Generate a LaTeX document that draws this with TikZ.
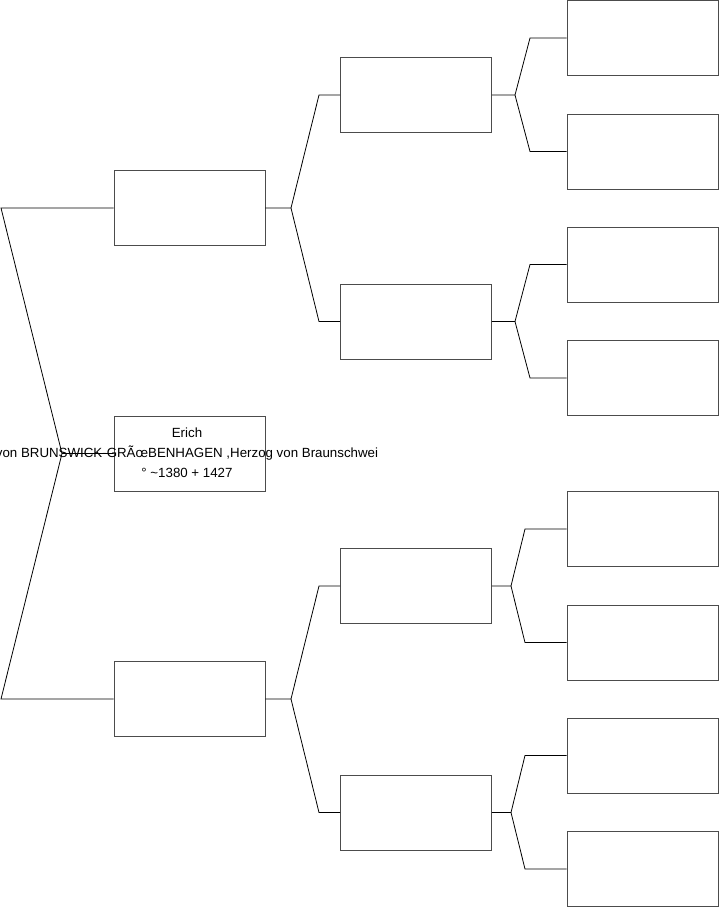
\documentclass[tikz,border=0pt]{standalone}
\usepackage{fontspec}
\setmainfont{Liberation Sans}
\begin{document}
\begin{tikzpicture}[x=1pt,y=-1pt,
  pbox/.style={draw=black!70,line width=0.8pt,rectangle,minimum width=151pt,minimum height=75pt,inner sep=0pt},
  conn/.style={draw=black,line width=0.8pt},
  ptext/.style={align=center,font=\fontsize{13.3}{20}\selectfont,inner sep=0pt}]
\useasboundingbox (0,0) rectangle (719,908);
% level 0
\node[pbox] (erich) at (189.5,453.5) {};
\node[ptext] (erichtext) at (187,453) {Erich\\von BRUNSWICK-GRÃœBENHAGEN ,Herzog von Braunschwei\\° \textasciitilde 1380 + 1427};
% level 1
\node[pbox] (f) at (189.5,208) {};
\node[pbox] (m) at (189.5,699) {};
% level 2
\node[pbox] (ff) at (416,95) {};
\node[pbox] (fm) at (416,321.5) {};
\node[pbox] (mf) at (416,586) {};
\node[pbox] (mm) at (416,812.5) {};
% level 3
\node[pbox] (fff) at (642.5,38) {};
\node[pbox] (ffm) at (642.5,151.5) {};
\node[pbox] (fmf) at (642.5,264.5) {};
\node[pbox] (fmm) at (642.5,378) {};
\node[pbox] (mff) at (642.5,529) {};
\node[pbox] (mfm) at (642.5,642.5) {};
\node[pbox] (mmf) at (642.5,755.5) {};
\node[pbox] (mmm) at (642.5,869) {};
% fork coordinates
\coordinate (k0) at (62,453.5);
\coordinate (k0a) at (1,208);
\coordinate (k0b) at (1,699);
\coordinate (kf) at (291,208);
\coordinate (kfa) at (319,95);
\coordinate (kfb) at (319,321.5);
\coordinate (km) at (291,699);
\coordinate (kma) at (319,586);
\coordinate (kmb) at (319,812.5);
\coordinate (kff) at (515,95);
\coordinate (kffa) at (530,38);
\coordinate (kffb) at (530,151.5);
\coordinate (kfm) at (515,321.5);
\coordinate (kfma) at (530,264.5);
\coordinate (kfmb) at (530,378);
\coordinate (kmf) at (511,586);
\coordinate (kmfa) at (525,529);
\coordinate (kmfb) at (525,642.5);
\coordinate (kmm) at (511,812.5);
\coordinate (kmma) at (525,755.5);
\coordinate (kmmb) at (525,869);
% connectors
\draw[conn] (erich.west) -- (k0) -- (k0a) -- (f.west);
\draw[conn] (k0) -- (k0b) -- (m.west);
\draw[conn] (f.east) -- (kf) -- (kfa) -- (ff.west);
\draw[conn] (kf) -- (kfb) -- (fm.west);
\draw[conn] (m.east) -- (km) -- (kma) -- (mf.west);
\draw[conn] (km) -- (kmb) -- (mm.west);
\draw[conn] (ff.east) -- (kff) -- (kffa) -- (fff.west);
\draw[conn] (kff) -- (kffb) -- (ffm.west);
\draw[conn] (fm.east) -- (kfm) -- (kfma) -- (fmf.west);
\draw[conn] (kfm) -- (kfmb) -- (fmm.west);
\draw[conn] (mf.east) -- (kmf) -- (kmfa) -- (mff.west);
\draw[conn] (kmf) -- (kmfb) -- (mfm.west);
\draw[conn] (mm.east) -- (kmm) -- (kmma) -- (mmf.west);
\draw[conn] (kmm) -- (kmmb) -- (mmm.west);
\end{tikzpicture}
\end{document}
